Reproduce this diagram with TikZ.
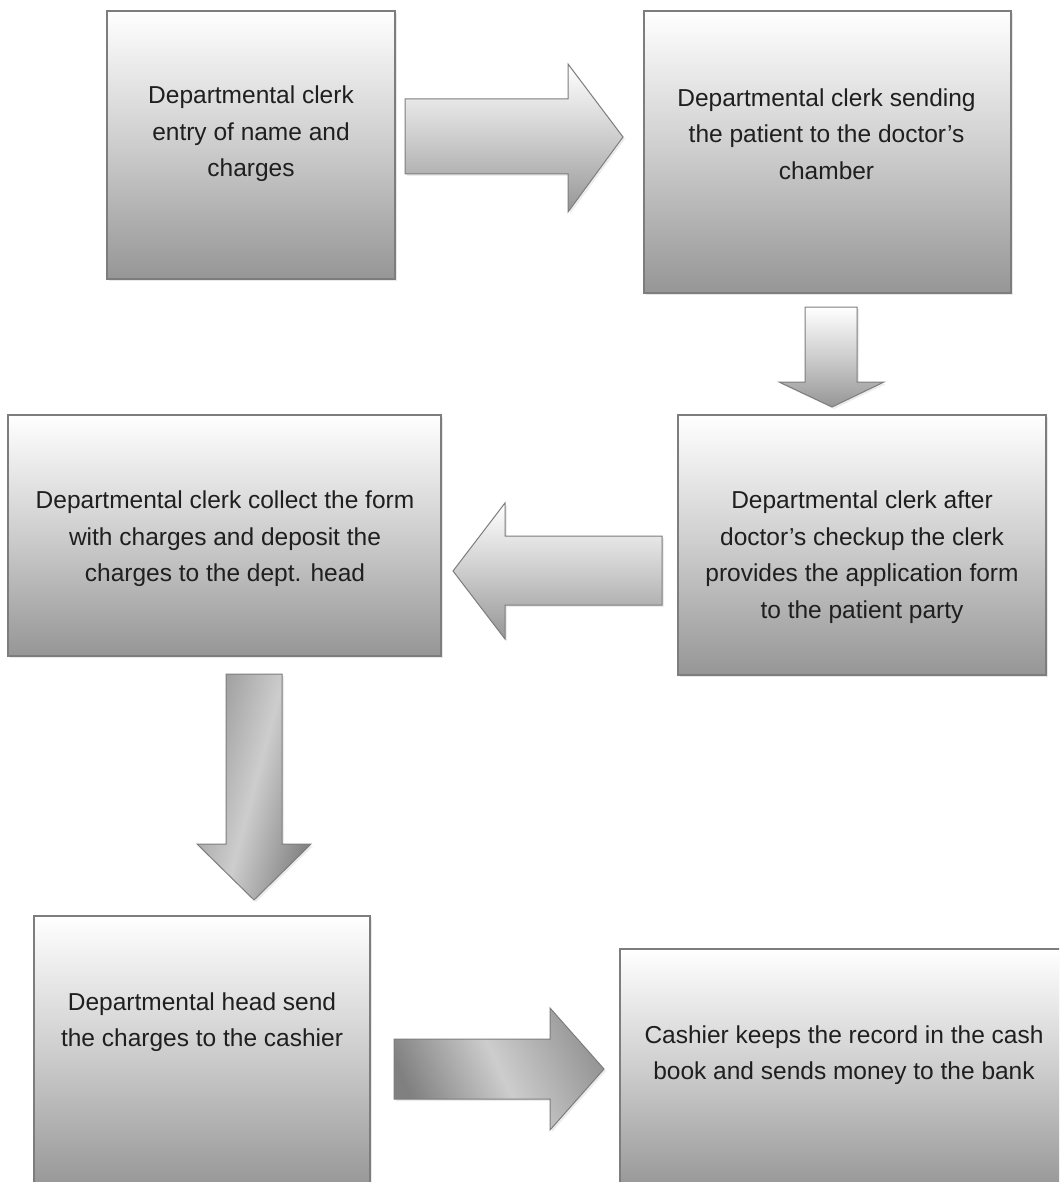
\documentclass[tikz,border=0pt]{standalone}
\usepackage{fontspec}
\setmainfont{Liberation Sans}
\usepackage{tikz}
\usetikzlibrary{shadows,calc}
\usepackage{xcolor}

\definecolor{cinzaclaro}{RGB}{205,205,205}
\definecolor{cinzaescuro}{RGB}{150,150,150}
\definecolor{cinzaforte}{RGB}{128,128,128}
\definecolor{borda}{RGB}{125,125,125}

\tikzset{
  caixa/.style={draw=borda, line width=0.6pt, top color=white, bottom color=cinzaescuro,
    middle color=cinzaclaro, inner sep=0pt,
    drop shadow={shadow xshift=1pt, shadow yshift=-1pt, opacity=0.18}},
  texto/.style={align=center, inner sep=0pt, text=black!88,
    font=\fontsize{12.25pt}{18.3pt}\selectfont},
  seta/.style={draw=borda, line width=0.5pt, line join=miter,
    drop shadow={shadow xshift=1pt, shadow yshift=-1pt, opacity=0.15}}
}

\begin{document}
\begin{tikzpicture}[x=0.5pt,y=-0.5pt]
\useasboundingbox (0,0) rectangle (1059,1182);
\clip (0,0) rectangle (1059,1182);
% Caixas
\node[caixa, minimum width=144pt, minimum height=134pt] (b1) at (251,145) {};
\node[caixa, minimum width=183.5pt, minimum height=141pt] (b2) at (827.5,152) {};
\node[caixa, minimum width=184pt, minimum height=130pt] (b3) at (862,545) {};
\node[caixa, minimum width=216.5pt, minimum height=120.5pt] (b4) at (224.5,535.5) {};
\node[caixa, minimum width=168pt, minimum height=137pt] (b5) at (202,1053) {};
\node[caixa, minimum width=225pt, minimum height=121pt] (b6) at (845,1070) {};
% Textos
\node[texto] (t1) at ($(b1.center)+(0,-11)$) {Departmental clerk\\entry of name and\\charges};
\node[texto] (t2) at ($(b2.center)+(-1,-18)$) {Departmental clerk sending\\the patient to the doctor’s\\chamber};
\node[texto] (t3) at ($(b3.center)+(0,12)$) {Departmental clerk after\\doctor’s checkup the clerk\\provides the application form\\to the patient party};
\node[texto] (t4) at ($(b4.center)+(0.5,3.5)$) {Departmental clerk collect the form\\with charges and deposit the\\charges to the dept. head};
\node[texto] (t5) at ($(b5.center)+(0,-31)$) {Departmental head send\\the charges to the cashier};
\node[texto] (t6) at ($(b6.center)+(-1,-15)$) {Cashier keeps the record in the cash\\book and sends money to the bank};
% Setas
\draw[seta, top color=white, bottom color=cinzaescuro, middle color=cinzaclaro]
  (405,99) -- (568,99) -- (568,64) -- (623,137) -- (568,212) -- (568,174) -- (405,174) -- cycle;
\draw[seta, top color=white, bottom color=cinzaescuro, middle color=cinzaclaro]
  (805,307) -- (857,307) -- (857,382) -- (884,382) -- (832,407) -- (779,382) -- (805,382) -- cycle;
\draw[seta, top color=white, bottom color=cinzaescuro, middle color=cinzaclaro]
  (662,536) -- (505,536) -- (505,503) -- (453,571) -- (505,639) -- (505,605) -- (662,605) -- cycle;
\draw[seta, left color=cinzaescuro, right color=cinzaforte, middle color=cinzaclaro, shading angle=75]
  (226,674) -- (282,674) -- (282,844) -- (311,844) -- (254,900) -- (197,844) -- (226,844) -- cycle;
\draw[seta, left color=cinzaforte, right color=cinzaescuro, middle color=cinzaclaro, shading angle=115]
  (394,1039) -- (550,1039) -- (550,1008) -- (604,1069) -- (550,1130) -- (550,1099) -- (394,1099) -- cycle;
\end{tikzpicture}
\end{document}
